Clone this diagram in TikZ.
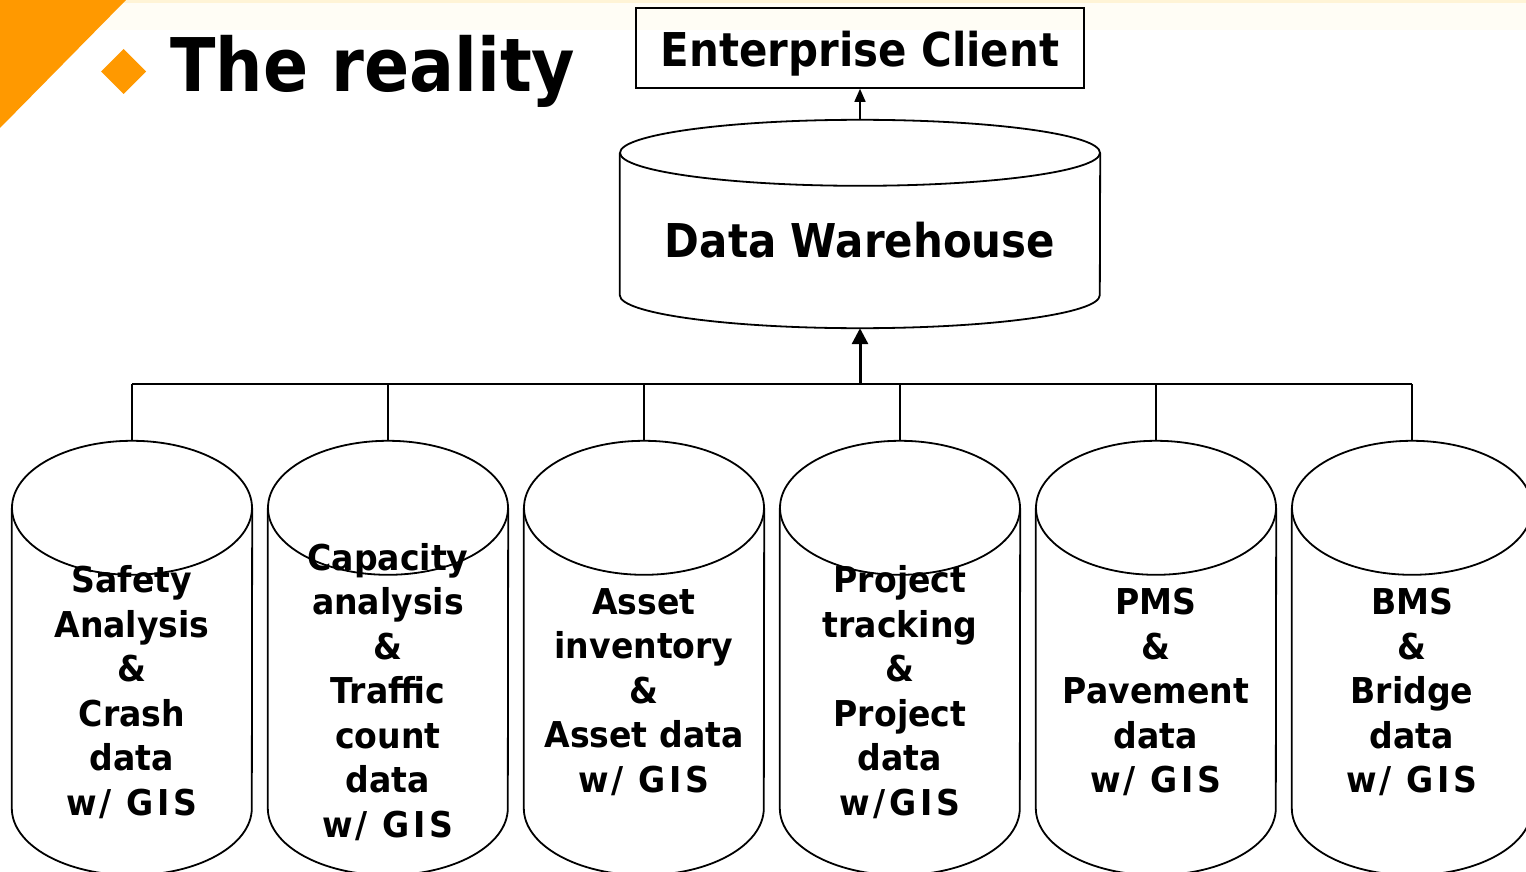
\documentclass[tikz,border=0pt]{standalone}
\usepackage{fontspec}
\setmainfont{DejaVu Sans}[FakeStretch=0.9]
\newfontfamily\storefont{DejaVu Sans}[FakeStretch=0.93]
\usetikzlibrary{calc,arrows.meta}
\definecolor{accent}{RGB}{255,153,0}
\definecolor{topband}{RGB}{255,244,214}
\definecolor{tophaze}{RGB}{255,253,245}

% outline of an upright drum (cylinder) filling the box of node #1,
% with elliptic ends of radii #2 (horizontal) and #3 (vertical)
\newcommand\drumoutline[3]{%
  \draw[drum] ($(#1.north)+(0,-#3)$) ellipse [x radius=#2pt, y radius=#3pt];
  \draw[drum] ($(#1.north west)+(0,-#3)$) -- ($(#1.south west)+(0,#3)$)
    arc [start angle=180, end angle=360, x radius=#2pt, y radius=#3pt]
    -- ($(#1.north east)+(0,-#3)$);
}
% the "with GIS" line, set a little looser
\newcommand\withgis{w\kern3pt/ \kern3pt G\kern4pt I\kern4pt S}
\newcommand\withgistight{w\kern3pt/\kern4pt G\kern4pt I\kern4pt S}

\tikzset{
  drum/.style={line width=1.8pt, black},
  drumbox/.style={rectangle, inner sep=0pt, minimum width=240pt, minimum height=434pt},
  storetext/.style={font=\storefont\fontsize{35.6}{44.5}\selectfont\bfseries, align=center, inner sep=0pt},
  headtext/.style={font=\fontsize{46.6}{56}\selectfont\bfseries, inner sep=0pt, text height=34pt, text depth=0pt},
  feed/.style={line width=1.5pt},
  busline/.style={line width=2pt},
  uparrow/.style={line width=3pt, -{Triangle[width=16pt,length=16pt]}},
  thinarrow/.style={line width=1.6pt, -{Triangle[width=11pt,length=13pt]}},
}

\begin{document}
\begin{tikzpicture}[x=1pt,y=1pt]
\useasboundingbox (0,0) rectangle (1526,-872);
\clip (0,0) rectangle (1526,-872);
\fill[white] (0,0) rectangle (1526,-872);

% slide decoration
\fill[tophaze] (0,0) rectangle (1526,-30);
\fill[topband] (0,0) rectangle (1526,-3);
\fill[accent] (0,0) -- (126,0) -- (0,-128) -- cycle;
\fill[accent] (123.5,-49) -- (146,-71.5) -- (123.5,-94) -- (101,-71.5) -- cycle;
\node[anchor=base west, inner sep=0pt, font=\fontsize{74}{80}\selectfont\bfseries]
  (title) at (170,-92) {The reality};

% enterprise client
\node[draw, line width=1.6pt, minimum width=448pt, minimum height=80pt, inner sep=0pt]
  (ec) at (860,-48) {};
\node[headtext] (ect) at (860,-50) {Enterprise Client};

% data warehouse
\node[rectangle, inner sep=0pt, minimum width=480pt, minimum height=208pt]
  (dw) at (860,-224) {};
\drumoutline{dw}{240}{33}
\node[headtext] (dwt) at (860,-240) {Data Warehouse};

% source stores
\foreach \n/\cx in {1/132,2/388,3/644,4/900,5/1156,6/1412}{
  \node[drumbox] (c\n) at (\cx,-658) {};
  \drumoutline{c\n}{120}{67}
}
\node[storetext] (c1t) at (132,-692) {Safety\\Analysis\\\&\\Crash\\data\\\withgis};
\node[storetext] (c2t) at (388,-692) {Capacity\\analysis\\\&\\Traffic\\count\\data\\\withgis};
\node[storetext] (c3t) at (644,-692) {Asset\\inventory\\\&\\Asset data\\\withgis};
\node[storetext] (c4t) at (900,-692) {Project\\tracking\\\&\\Project\\data\\\withgistight};
\node[storetext] (c5t) at (1156,-692) {PMS\\\&\\Pavement\\data\\\withgis};
\node[storetext] (c6t) at (1412,-692) {BMS\\\&\\Bridge\\data\\\withgis};

% feeds into the warehouse
\coordinate (bus) at (860,-384);
\draw[busline] (c1.north |- bus) -- (c6.north |- bus);
\foreach \n in {1,...,6}{
  \draw[feed] (c\n.north) -- (c\n.north |- bus);
}
\draw[uparrow] (bus) -- (dw.south);
\draw[thinarrow] (dw.north) -- (ec.south);
\end{tikzpicture}
\end{document}
